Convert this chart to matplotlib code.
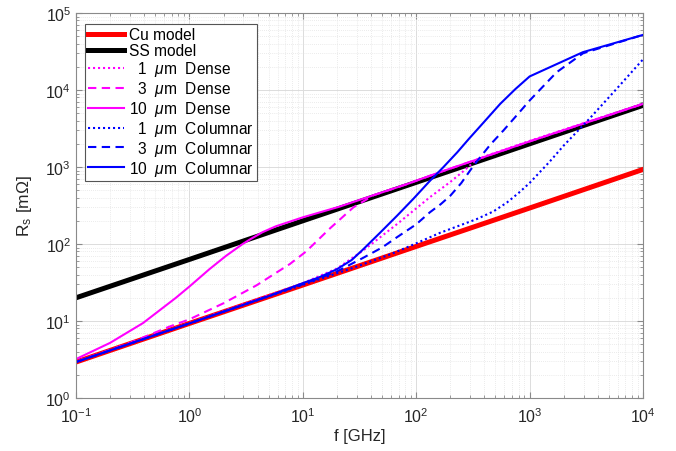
import matplotlib
matplotlib.use('Agg')
import matplotlib.pyplot as plt
from matplotlib.ticker import LogLocator, NullFormatter

plt.rcParams['font.family'] = ['Liberation Sans', 'DejaVu Sans']
plt.rcParams['mathtext.fontset'] = 'custom'
plt.rcParams['mathtext.rm'] = 'Liberation Sans'
plt.rcParams['mathtext.it'] = 'Liberation Sans:italic'

# values (f in GHz, Rs in mOhm)
f_model = [0.1, 1, 10, 100, 1000, 10000]
cu_model = [2.93, 9.3, 29.3, 93, 293, 930]
ss_model = [20, 63, 200, 632, 2000, 6320]

f_d1 = [0.1, 1, 10, 20, 34, 68, 132, 200, 260, 320, 400, 1000, 10000]
r_d1 = [2.95, 9.4, 31, 48, 82, 182, 405, 640, 880, 1150, 1370, 2180, 6650]

f_d3 = [0.1, 0.3, 0.66, 1, 2, 3.9, 7.7, 10.7, 17.4, 21, 28, 35, 42, 83, 163, 1000, 10000]
r_d3 = [2.95, 5.2, 8.4, 10.5, 17, 29, 55, 80, 160, 205, 300, 365, 430, 600, 860, 2150, 6600]

f_d10 = [0.1, 0.2, 0.39, 0.76, 1, 1.5, 2.1, 2.95, 3.4, 4.4, 5.8, 10, 21, 42, 83, 163, 1000, 10000]
r_d10 = [3.2, 5.2, 9.4, 20, 28, 47, 70, 100, 114, 142, 170, 222, 305, 430, 600, 860, 2150, 6600]

f_c1 = [0.1, 1, 10, 30, 60, 100, 163, 340, 480, 630, 800, 1000, 1500, 2000, 3400, 5900, 10000]
r_c1 = [2.93, 9.3, 29.5, 51, 74, 102, 140, 210, 265, 345, 460, 620, 1170, 1900, 4300, 10500, 25000]

f_c3 = [0.1, 1, 10, 20, 34, 50, 68, 100, 132, 165, 200, 250, 298, 338, 450, 590, 800,
        1000, 1730, 2960, 10000]
r_c3 = [2.93, 9.3, 30, 44, 66, 90, 123, 180, 258, 330, 424, 620, 896, 1150, 1950, 3000, 5000,
        7300, 17000, 30000, 52000]

f_c10 = [0.1, 1, 5, 10, 14, 20, 27, 34, 48, 68, 95, 132, 173, 230, 290, 400, 550, 750,
         1000, 2950, 10000]
r_c10 = [2.93, 9.3, 21, 31, 37, 47, 62, 85, 140, 234, 390, 660, 990, 1550, 2300, 3900, 6600, 10300,
         15000, 31000, 52000]

dot = (0, (1, 1.4))
dash = (0, (4, 2.6))

fig = plt.figure(figsize=(6.76, 4.52), dpi=100)
ax = fig.add_axes([0.1124, 0.1173, 0.8388, 0.8517])

ax.loglog(f_model, cu_model, color='#ff0000', lw=3.6, label='Cu model')
ax.loglog(f_model, ss_model, color='black', lw=3.6, label='SS model')
ax.loglog(f_d1, r_d1, color='#ff00ff', lw=1.5, ls=dot, label=r'  1  $\mu$m  Dense')
ax.loglog(f_d3, r_d3, color='#ff00ff', lw=1.5, ls=dash, label=r'  3  $\mu$m  Dense')
ax.loglog(f_d10, r_d10, color='#ff00ff', lw=1.5, label=r'10  $\mu$m  Dense')
ax.loglog(f_c1, r_c1, color='#0000ff', lw=1.5, ls=dot, label=r'  1  $\mu$m  Columnar')
ax.loglog(f_c3, r_c3, color='#0000ff', lw=1.5, ls=dash, label=r'  3  $\mu$m  Columnar')
ax.loglog(f_c10, r_c10, color='#0000ff', lw=1.5, label=r'10  $\mu$m  Columnar')

ax.set_xlim(0.1, 1e4)
ax.set_ylim(1, 1e5)
for axis in (ax.xaxis, ax.yaxis):
    axis.set_major_locator(LogLocator(base=10, numticks=20))
    axis.set_minor_locator(LogLocator(base=10, subs=range(2, 10), numticks=50))
    axis.set_minor_formatter(NullFormatter())

ax.grid(which='major', color='#dcdcdc', lw=0.7, ls='-')
ax.grid(which='minor', color='#e4e4e4', lw=0.6, ls=(0, (1, 1.5)))
ax.set_axisbelow(True)

for s in ax.spines.values():
    s.set_color('#8a8a8a')
    s.set_linewidth(0.8)
ax.tick_params(which='both', direction='in', top=True, right=True,
               colors='#8a8a8a', labelcolor='#262626', labelsize=11.5)
ax.tick_params(which='major', length=4.5)
ax.tick_params(which='minor', length=2.5)
ax.tick_params(axis='x', which='major', pad=6)

ax.set_xlabel('f [GHz]', fontsize=12, color='#262626', labelpad=2)
ax.set_ylabel(r'R$_\mathrm{s}$ [m$\Omega$]', fontsize=12.5, color='#262626', labelpad=8)

leg = ax.legend(loc='upper left', bbox_to_anchor=(0.016, 0.971), fontsize=11.2,
                frameon=True, fancybox=False, framealpha=1, edgecolor='#555555',
                handlelength=2.3, handletextpad=0.3, labelspacing=0.06,
                borderpad=0.2, borderaxespad=0)
leg.get_frame().set_linewidth(0.8)

fig.savefig('out.png', dpi=100)
